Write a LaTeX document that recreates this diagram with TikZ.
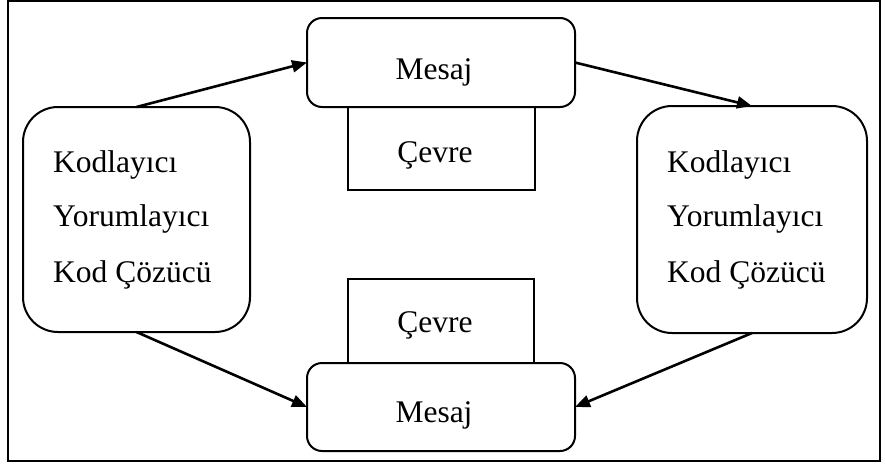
\documentclass[tikz,border=0pt]{standalone}
\usepackage{fontspec}
\setmainfont{Liberation Serif}
\usetikzlibrary{arrows.meta}
\begin{document}
\begin{tikzpicture}[x=1pt,y=-1pt,
  box/.style={draw,line width=2pt,inner sep=0pt,outer sep=0pt},
  rbox/.style={box,rounded corners=#1},
  txt/.style={inner sep=0pt,font=\fontsize{31.5}{37}\selectfont},
  arr/.style={line width=2.6pt,-{Triangle[length=15pt,width=12pt]}}]
\useasboundingbox (0,0) rectangle (885,464);
\draw[line width=2.4pt] (8,1.2) rectangle (880,461);
% boxes
\node[box,minimum width=187pt,minimum height=83pt] (tc) at (441.5,148.5) {};
\node[rbox=15pt,fill=white,minimum width=268pt,minimum height=89pt] (tm) at (441,62.5) {};
\node[box,minimum width=186pt,minimum height=84pt] (bc) at (441,321) {};
\node[rbox=15pt,fill=white,minimum width=268pt,minimum height=88pt] (bm) at (441,407) {};
\node[rbox=35pt,minimum width=227pt,minimum height=225pt] (lb) at (136.5,219.5) {};
\node[rbox=35pt,minimum width=230pt,minimum height=227pt] (rb) at (752,219.5) {};
% texts
\node[txt,anchor=base] (tmt) at (434,79) {Mesaj};
\node[txt,anchor=base] (tct) at (435,162) {Çevre};
\node[txt,anchor=base] (bct) at (435,332) {Çevre};
\node[txt,anchor=base] (bmt) at (434,422) {Mesaj};
\node[txt,anchor=base west] (l1) at (53,172) {Kodlayıcı};
\node[txt,anchor=base west] (l2) at (53,226) {Yorumlayıcı};
\node[txt,anchor=base west] (l3) at (53,282) {Kod Çözücü};
\node[txt,anchor=base west] (r1) at (667,172) {Kodlayıcı};
\node[txt,anchor=base west] (r2) at (667,226) {Yorumlayıcı};
\node[txt,anchor=base west] (r3) at (667,282) {Kod Çözücü};
% arrows
\draw[arr] (lb.north) -- (tm.west);
\draw[arr] (tm.east) -- (rb.north);
\draw[arr] (rb.south) -- (bm.east);
\draw[arr] (lb.south) -- (bm.west);
\end{tikzpicture}
\end{document}
